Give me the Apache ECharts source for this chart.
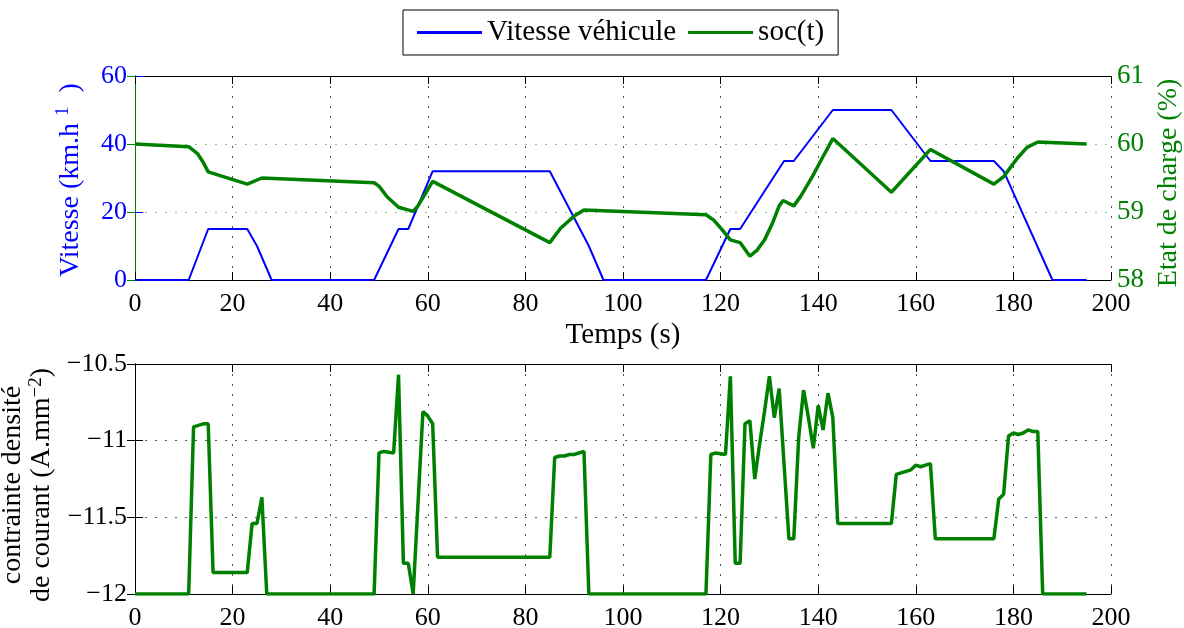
<!DOCTYPE html>
<html><head><meta charset="utf-8">
<script src="https://cdn.jsdelivr.net/npm/echarts@6/dist/echarts.min.js"></script>
<style>html,body{margin:0;padding:0;background:#fff}#c{width:1184px;height:628px}</style>
</head><body><div id="c"></div>
<script>
const xTicks = [0,20,40,60,80,100,120,140,160,180,200];
const speedT = [0,11,15,23,25,28,49,54,56,61,85,93,96,117,122,124,133,135,143,155,163,176,178,188,195];
const speedV = [0,0,15,15,10,0,0,15,15,32,32,10,0,0,15,15,35,35,50,50,35,35,32,0,0];
const socT = [0,11,12.8,13.9,15,23,26,49,50,51.7,54,57,57.9,61,85,87.2,90,92,117,118.6,120.3,122,124,126,127.5,129,130.6,132,132.8,135,136.4,138.8,140.8,143,155,163,176,178,180.8,182.8,185,195];
const socV = [60.0,59.96,59.86,59.74,59.59,59.41,59.50,59.43,59.38,59.22,59.07,59.01,59.08,59.45,58.55,58.76,58.94,59.03,58.96,58.88,58.74,58.59,58.55,58.35,58.44,58.59,58.83,59.09,59.17,59.09,59.23,59.52,59.79,60.08,59.29,59.92,59.41,59.52,59.79,59.95,60.03,60.0];
const jT = [0,11,12,13,14,15,16,23,24,25,26,27,49,50,51,53,54,55,56,57,59,60,61,62,85,86,87,88,89,90,92,93,117,118,119,121,122,123,124,125,126,127,128,129,130,131,132,134,135,136,137,138,139,140,141,142,143,144,155,156,157,159,160,161,162,163,164,176,177,178,179,180,181,182,183,184,185,186,195];
const jV = [-12,-12,-10.91,-10.90,-10.89,-10.89,-11.86,-11.86,-11.54,-11.54,-11.37,-12,-12,-11.08,-11.07,-11.08,-10.57,-11.80,-11.80,-12,-10.81,-10.84,-10.89,-11.76,-11.76,-11.11,-11.10,-11.10,-11.09,-11.09,-11.07,-12,-12,-11.09,-11.08,-11.09,-10.58,-11.80,-11.80,-10.89,-10.87,-11.25,-11.02,-10.81,-10.58,-10.85,-10.66,-11.64,-11.64,-10.98,-10.67,-10.85,-11.05,-10.77,-10.93,-10.69,-10.85,-11.54,-11.54,-11.22,-11.21,-11.19,-11.16,-11.17,-11.16,-11.15,-11.64,-11.64,-11.38,-11.35,-10.97,-10.95,-10.96,-10.95,-10.93,-10.94,-10.94,-12,-12];

const F = 'Liberation Serif';
const BLUE = '#0000ff', GREEN = '#008000';
const zip = (a,b) => a.map((t,i) => [t,b[i]]);
const minus = v => String(v).replace('-', '\u2212');
const dotted = (c) => ({show:true, lineStyle:{color:c, type:[2,8], width:1}});

const chart = echarts.init(document.getElementById('c'), null, {renderer:'canvas'});
const xBase = (g) => ({
  type:'value', gridIndex:g, min:0, max:200, interval:20,
  axisLine:{lineStyle:{color:'#000', width:1}},
  axisTick:{inside:true, length:8, lineStyle:{color:'#000'}},
  axisLabel:{color:'#000', fontFamily:F, fontSize:26, margin:11},
  splitLine:dotted('#555')
});
const xTop = (g) => ({
  type:'value', gridIndex:g, position:'top', min:0, max:200, interval:20,
  axisLine:{show:true, lineStyle:{color:'#000', width:1}},
  axisTick:{inside:true, length:8, lineStyle:{color:'#000'}},
  axisLabel:{show:false}, splitLine:{show:false}
});
chart.setOption({
  animation:false,
  legend:{
    left:403, top:10, padding:[8,14,8,14], borderColor:'#000', borderWidth:1,
    itemWidth:65, itemHeight:3, itemGap:12, icon:'rect',
    textStyle:{fontFamily:F, fontSize:29, color:'#000'},
    data:['Vitesse véhicule','soc(t)']
  },
  grid:[
    {left:135, right:73, top:76, height:204, outerBoundsMode:'none', containLabel:false},
    {left:135, right:73, top:364, height:230, outerBoundsMode:'none', containLabel:false}
  ],
  xAxis:[
    Object.assign(xBase(0), {name:'Temps (s)', nameLocation:'middle', nameGap:41,
      nameTextStyle:{fontFamily:F, fontSize:29, color:'#000'}}),
    xBase(1),
    xTop(0), xTop(1)
  ],
  yAxis:[
    {type:'value', gridIndex:0, min:0, max:60, interval:20, position:'left',
     axisLine:{show:true, lineStyle:{color:BLUE, width:1}},
     axisTick:{show:true, inside:true, length:8, lineStyle:{color:BLUE}},
     axisLabel:{color:BLUE, fontFamily:F, fontSize:26, margin:8},
     splitLine:{show:false},
     name:'Vitesse (km.h {s|1}  )', nameLocation:'middle', nameRotate:90, nameGap:48,
     nameTextStyle:{color:BLUE, fontFamily:F, fontSize:28, padding:[0,4,0,0],
       rich:{s:{fontFamily:F, fontSize:19, color:BLUE, verticalAlign:'top', padding:[0,0,14,0]}}}},
    {type:'value', gridIndex:0, min:58, max:61, interval:1, position:'right',
     axisLine:{show:true, lineStyle:{color:GREEN, width:1}},
     axisTick:{show:true, inside:true, length:8, lineStyle:{color:GREEN}},
     axisLabel:{color:GREEN, fontFamily:F, fontSize:27, margin:6},
     splitLine:{show:true, lineStyle:{color:'#88cc88', type:[2,8], width:1}},
     name:'Etat de charge (%)', nameLocation:'middle', nameRotate:90, nameGap:44,
     nameTextStyle:{color:GREEN, fontFamily:F, fontSize:28, padding:[0,10,0,0]}},
    {type:'value', gridIndex:1, min:-12, max:-10.5, interval:0.5, position:'left',
     axisLine:{show:true, lineStyle:{color:'#000', width:1}},
     axisTick:{show:true, inside:true, length:8, lineStyle:{color:'#000'}},
     axisLabel:{color:'#000', fontFamily:F, fontSize:26, margin:8, formatter:minus},
     splitLine:dotted('#555'),
     name:'contrainte densité\nde courant (A.mm{s|\u22122})', nameLocation:'middle', nameRotate:90, nameGap:68,
     nameTextStyle:{color:'#000', fontFamily:F, fontSize:28, lineHeight:29, padding:[0,12,0,0],
       rich:{s:{fontFamily:F, fontSize:19, color:'#000', verticalAlign:'top', padding:[0,0,12,0]}}}},
    {type:'value', gridIndex:1, min:-12, max:-10.5, interval:0.5, position:'right',
     axisLine:{show:true, lineStyle:{color:'#000', width:1}},
     axisTick:{show:true, inside:true, length:8, lineStyle:{color:'#000'}},
     axisLabel:{show:false}, splitLine:{show:false}}
  ],
  series:[
    {name:'Vitesse véhicule', type:'line', xAxisIndex:0, yAxisIndex:0, data:zip(speedT,speedV),
     symbol:'none', color:BLUE, lineStyle:{color:BLUE, width:2}, z:3},
    {name:'soc(t)', type:'line', xAxisIndex:0, yAxisIndex:1, data:zip(socT,socV),
     symbol:'none', color:GREEN, lineStyle:{color:GREEN, width:3.5}, z:4},
    {name:'contrainte', type:'line', xAxisIndex:1, yAxisIndex:2, data:zip(jT,jV),
     symbol:'none', color:GREEN, lineStyle:{color:GREEN, width:3.5}, z:4}
  ]
});
</script></body></html>
